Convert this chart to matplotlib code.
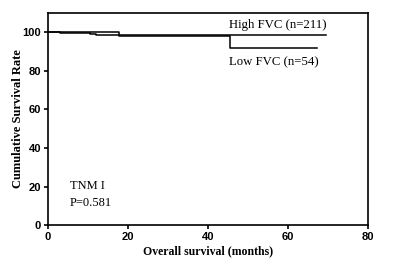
import matplotlib
matplotlib.use('Agg')
import matplotlib.pyplot as plt

# survival step data (months, %)
high_t = [0, 3.0, 10.5, 12.1, 69.6]
high_s = [100, 99.5, 99.0, 98.3, 98.3]
low_t = [0, 17.7, 45.6, 67.2]
low_s = [100, 98.1, 91.7, 91.7]

xticks = [0, 20, 40, 60, 80]
yticks = [0, 20, 40, 60, 80, 100]

fig = plt.figure(figsize=(4, 2.68), dpi=100)
ax = fig.add_axes([0.12, 0.16, 0.80, 0.792])

ax.step(high_t, high_s, where='post', color='black', lw=1.1)
ax.step(low_t, low_s, where='post', color='black', lw=1.1)

ax.set_xlim(0, 80)
ax.set_ylim(0, 110)
ax.set_xticks(xticks)
ax.set_yticks(yticks)
for s in ax.spines.values():
	s.set_linewidth(1.2)
ax.tick_params(direction='out', length=3, width=1.2, labelsize=8, pad=2)
for lab in ax.get_xticklabels() + ax.get_yticklabels():
	lab.set_fontweight('bold')
	lab.set_family('Liberation Sans')

serif = ['Liberation Serif', 'DejaVu Serif']
ax.set_xlabel('Overall survival (months)', fontsize=8.5, fontweight='bold', family=serif, labelpad=2)
ax.set_ylabel('Cumulative Survival Rate', fontsize=9, fontweight='bold', family=serif, labelpad=-1)

ax.text(45.2, 103.5, 'High FVC (n=211)', fontsize=9.2, family=serif, va='center')
ax.text(45.2, 84.5, 'Low FVC (n=54)', fontsize=9.2, family=serif, va='center')
ax.text(5.5, 20.5, 'TNM I', fontsize=9, family=serif, va='center')
ax.text(5.5, 11.5, 'P=0.581', fontsize=9, family=serif, va='center')

fig.savefig('out.png', dpi=100)
